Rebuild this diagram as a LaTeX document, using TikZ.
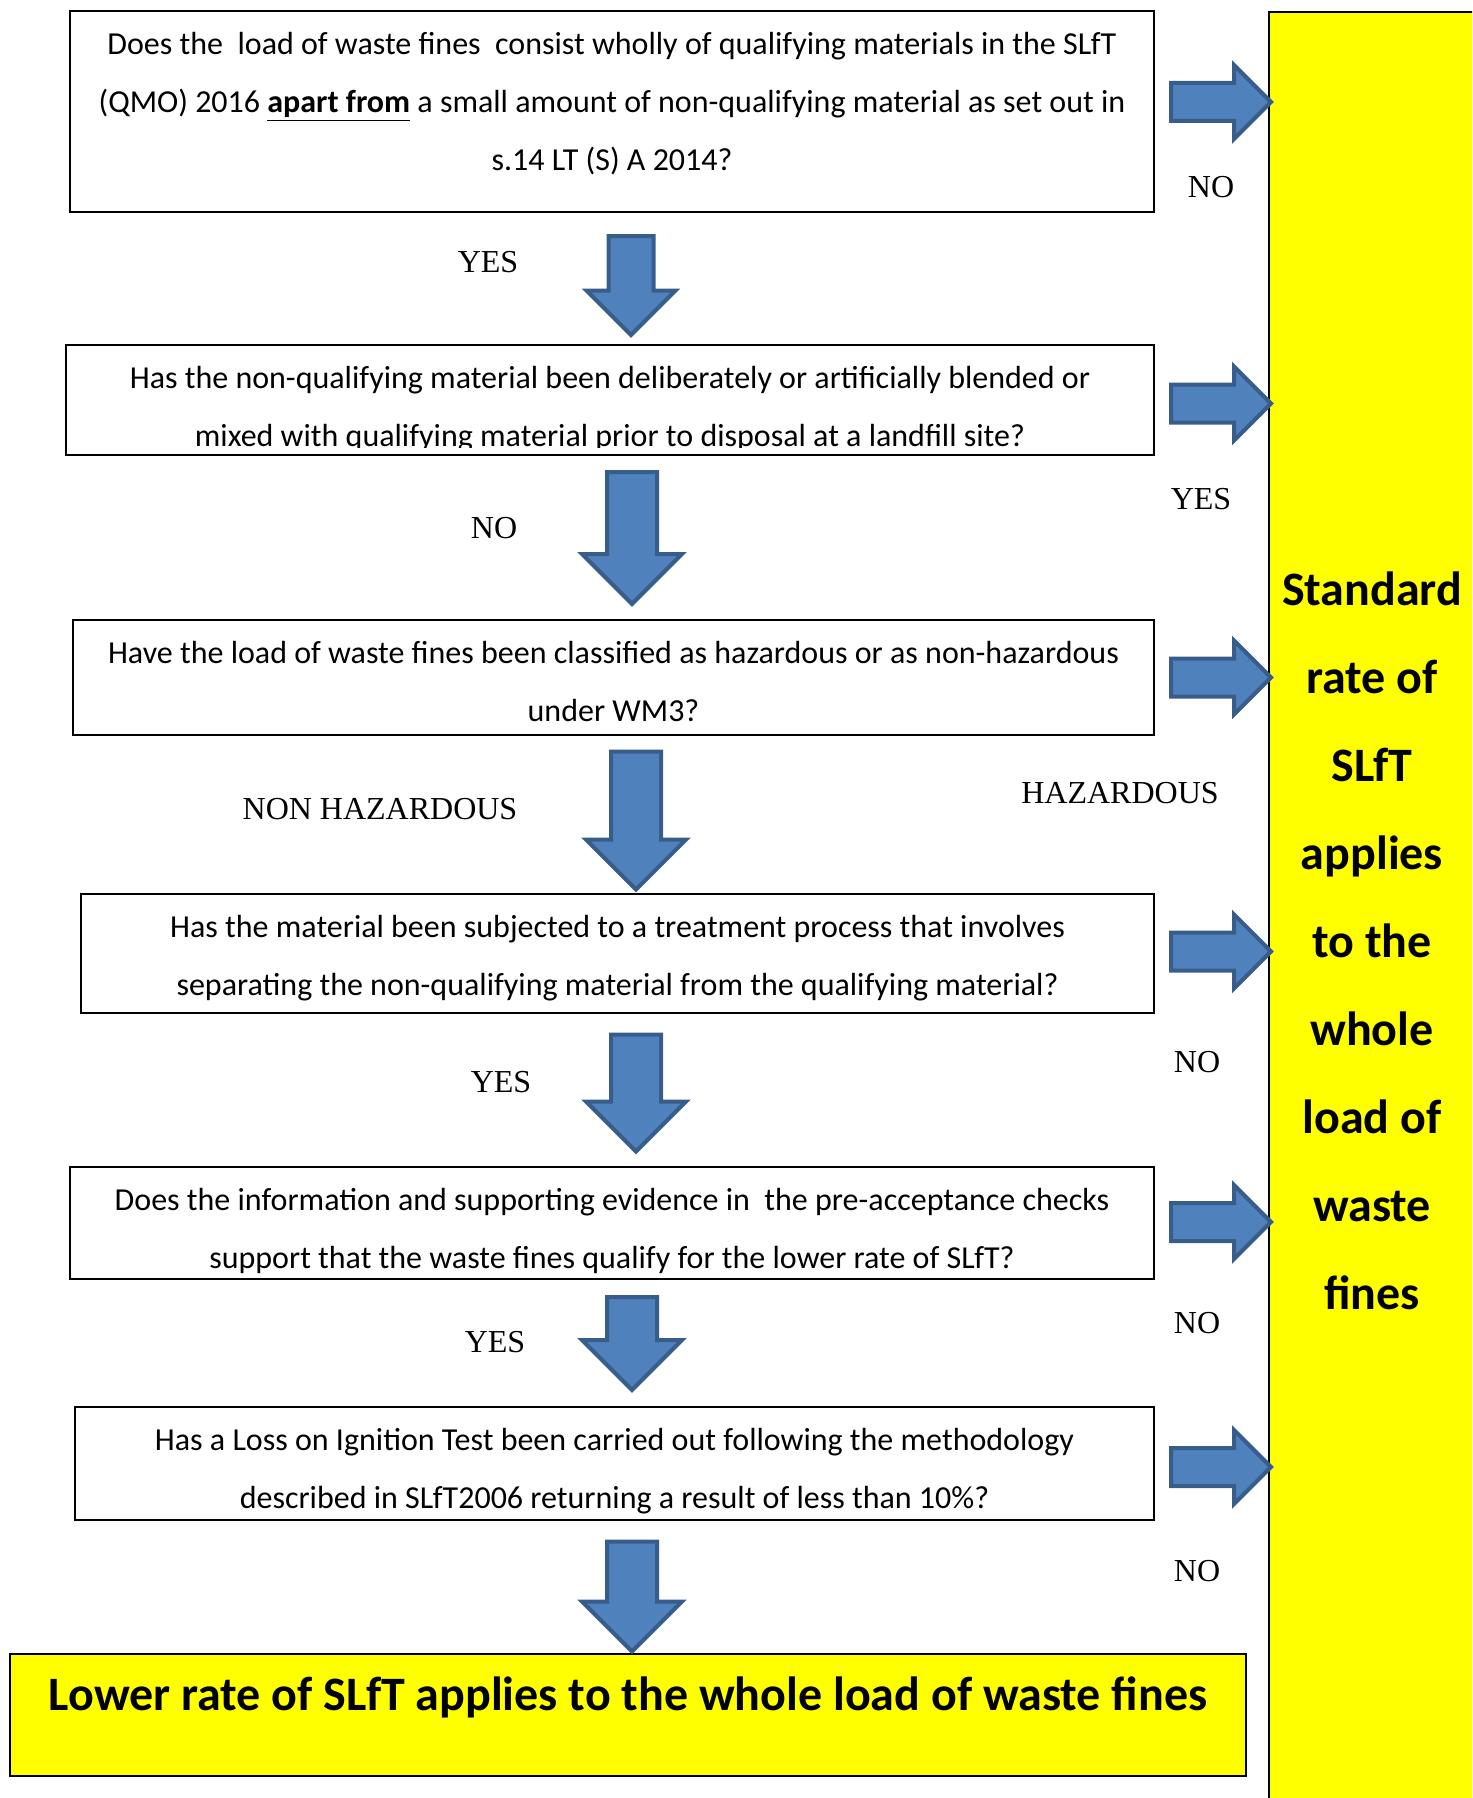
\documentclass[tikz,border=0pt]{standalone}
\usepackage{fontspec}
\setmainfont{Carlito}
\newfontfamily\answerfont{Liberation Serif}
\usetikzlibrary{shapes.arrows,positioning}
\definecolor{arrowfill}{HTML}{4F81BD}
\definecolor{arrowline}{HTML}{385D8A}
\definecolor{boxyellow}{HTML}{FFFF00}
\tikzset{
  qbox/.style={draw=black, line width=1pt, inner sep=0pt},
  qtext/.style={align=center, inner sep=0pt, font=\fontsize{16}{29}\selectfont},
  answer/.style={inner sep=0pt, font=\answerfont\fontsize{16}{19}\selectfont},
  blockarrow/.style={single arrow, fill=arrowfill, draw=arrowline, line width=2pt,
    single arrow head indent=0pt, inner xsep=0pt, inner ysep=11.5pt,
    single arrow head extend=12.5pt},
  downarrow/.style={blockarrow, rotate=-90, anchor=tail},
  rightarrow/.style={blockarrow, anchor=tail, inner ysep=8.5pt,
    single arrow head extend=9pt, minimum height=50pt},
}
\begin{document}
\begin{tikzpicture}[x=0.5pt,y=-0.5pt]
\clip (0,0) rectangle (1472,1798);
% side panel and result box
\node [qbox, fill=boxyellow, minimum width=110.5pt, minimum height=904pt] (side) at (1379.5,916) {};
\node [qtext, font=\fontsize{24}{44}\selectfont\bfseries, anchor=north] (sidetext) at (1372,543)
  {\strut Standard\\rate of\\SLfT\\applies\\to the\\whole\\load of\\waste\\fines};
\node [qbox, fill=boxyellow, minimum width=618pt, minimum height=61pt] (result) at (628,1715) {};
\node [font=\fontsize{24}{29}\selectfont\bfseries, inner sep=0pt, anchor=base] (resulttext) at (628,1710)
  {Lower rate of SLfT applies to the whole load of waste fines};
% question boxes
\node [qbox, minimum width=542pt, minimum height=100.5pt] (q1) at (612,111.5) {};
\node [qbox, minimum width=544pt, minimum height=55pt] (q2) at (610,400) {};
\node [qbox, minimum width=540.5pt, minimum height=57.5pt] (q3) at (613.5,677.5) {};
\node [qbox, minimum width=536.5pt, minimum height=59.5pt] (q4) at (617.5,953.5) {};
\node [qbox, minimum width=542pt, minimum height=56pt] (q5) at (612,1223) {};
\node [qbox, minimum width=539.5pt, minimum height=56.5pt] (q6) at (614.5,1463.5) {};
\node [qtext, below=1.75pt of q1.north] (t1)
  {\strut Does the\ \ load of waste fines\ \ consist wholly of qualifying materials in the SLfT\\
   (QMO) 2016 \underline{\textbf{apart from}} a small amount of non-qualifying material as set out in\\
   s.14 LT (S) A 2014?};
\begin{scope}
\clip (66,345) rectangle (1154,447);
\node [qtext, below=1.75pt of q2.north] (t2)
  {\strut Has the non-qualifying material been deliberately or artificially blended or\\
   mixed with qualifying material prior to disposal at a landfill site?};
\end{scope}
\node [qtext, below=1.75pt of q3.north] (t3)
  {\strut Have the load of waste fines been classified as hazardous or as non-hazardous\\
   under WM3?};
\node [qtext, below=1.75pt of q4.north] (t4)
  {\strut Has the material been subjected to a treatment process that involves\\
   separating the non-qualifying material from the qualifying material?};
\begin{scope}
\clip (70,1167) rectangle (1154,1276);
\node [qtext, below=1.75pt of q5.north] (t5)
  {\strut Does the information and supporting evidence in\ \ the pre-acceptance checks\\
   support that the waste fines qualify for the lower rate of SLfT?};
\end{scope}
\begin{scope}
\clip (75,1407) rectangle (1154,1516);
\node [qtext, below=1.75pt of q6.north] (t6)
  {\strut Has a Loss on Ignition Test been carried out following the methodology\\
   described in SLfT2006 returning a result of less than 10\%?};
\end{scope}
% block arrows
\node [downarrow, minimum height=49.5pt, inner ysep=10.25pt, single arrow head extend=11pt] (d1) at (631,234) {};
\node [downarrow, minimum height=66pt] (d2) at (632,470) {};
\node [downarrow, minimum height=69pt] (d3) at (636,749.5) {};
\node [downarrow, minimum height=58.5pt] (d4) at (636,1032.5) {};
\node [downarrow, minimum height=46.5pt] (d5) at (632,1295) {};
\node [downarrow, minimum height=55pt] (d6) at (632,1539.5) {};
\node [rightarrow] (r1) at (1169,102) {};
\node [rightarrow] (r2) at (1169,403.5) {};
\node [rightarrow] (r3) at (1169,677.5) {};
\node [rightarrow] (r4) at (1169,951.5) {};
\node [rightarrow] (r5) at (1169,1222) {};
\node [rightarrow] (r6) at (1169,1467) {};
% answers
\node [answer] (a1) at (488,262) {YES};
\node [answer] (a2) at (1211,187) {NO};
\node [answer] (a3) at (1201,499) {YES};
\node [answer] (a4) at (494,528) {NO};
\node [answer] (a5) at (380,809) {NON HAZARDOUS};
\node [answer] (a6) at (1120,793) {HAZARDOUS};
\node [answer] (a7) at (1197,1062) {NO};
\node [answer] (a8) at (501,1082) {YES};
\node [answer] (a9) at (1197,1323) {NO};
\node [answer] (a10) at (495,1342) {YES};
\node [answer] (a11) at (1197,1571) {NO};
\end{tikzpicture}
\end{document}
